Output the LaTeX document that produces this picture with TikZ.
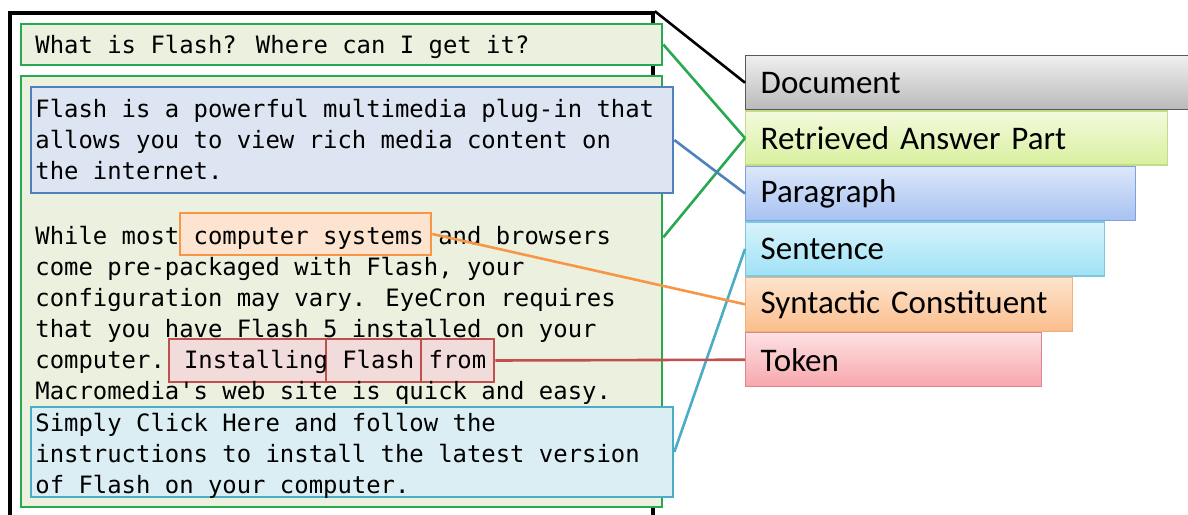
\documentclass[tikz,border=0pt]{standalone}
\usepackage{fontspec}
\newfontfamily\monofont{DejaVu Sans Mono}
\newfontfamily\labelfont{Carlito}
\usetikzlibrary{
    positioning,
    fit
}

\definecolor{ansgreen}{RGB}{40,168,80}
\definecolor{ansfill}{RGB}{236,241,223}
\definecolor{parblue}{RGB}{79,129,189}
\definecolor{parfill}{RGB}{220,229,241}
\definecolor{sentcyan}{RGB}{75,172,198}
\definecolor{sentfill}{RGB}{219,238,243}
\definecolor{constorange}{RGB}{247,150,70}
\definecolor{constfill}{RGB}{252,228,208}
\definecolor{tokred}{RGB}{192,80,77}
\definecolor{tokfill}{RGB}{242,220,219}

\tikzset{
    mono/.style={anchor=base west, inner sep=0pt, font=\fontsize{11.95}{14}\monofont},
    span/.style={inner sep=0pt, line width=1.3pt},
    tier/.style={anchor=north west, draw, line width=0.7pt, minimum height=27pt,
        inner xsep=7.5pt, inner ysep=0pt, align=left, font=\fontsize{16.5}{18}\labelfont},
    link/.style={line width=1.3pt}
}

\begin{document}
\begin{tikzpicture}[x=0.5pt, y=-0.5pt]
\useasboundingbox (0,0) rectangle (1188,514);

% the document and its parts
\node[draw, line width=1.8pt, inner sep=0pt, fit={(10,13) (653,540)}] (docframe) {};
\node[span, draw=ansgreen, fill=ansfill, fit={(21,24) (662,65)}] (quest) {};
\node[span, draw=ansgreen, fill=ansfill, fit={(21,76) (662,507)}] (ans) {};
\node[span, draw=parblue, fill=parfill, fit={(31,87) (673,193)}] (para) {};
\node[span, draw=sentcyan, fill=sentfill, fit={(31,407) (673,497)}] (sent) {};
\node[span, draw=constorange, fill=constfill, fit={(180,213) (431,255)}] (const) {};
\node[span, draw=tokred, fill=tokfill, fit={(169,339) (326,382)}] (tok1) {};
\node[span, draw=tokred, fill=tokfill, fit={(326,339) (421,382)}] (tok2) {};
\node[span, draw=tokred, fill=tokfill, fit={(421,339) (494,382)}] (tok3) {};

% text
\node[mono] (q) at (35,53) {What is Flash? Where can I get it?};
\node[mono] (p1) at (35,117) {Flash is a powerful multimedia plug-in that};
\node[mono] (p2) at (35,148) {allows you to view rich media content on};
\node[mono] (p3) at (35,179) {the internet.};
\foreach \ln [count=\i] in {
    {While most computer systems and browsers},
    {come pre-packaged with Flash, your},
    {configuration may vary. EyeCron requires},
    {that you have Flash 5 installed on your},
    {computer. Installing Flash from},
    {Macromedia's web site is quick and easy.}}
    \node[mono] (w\i) at (35,{244+31.1*(\i-1)}) {\ln};
\foreach \ln [count=\i] in {
    {Simply Click Here and follow the},
    {instructions to install the latest version},
    {of Flash on your computer.}}
    \node[mono] (s\i) at (35,{431+31.4*(\i-1)}) {\ln};

% levels
\node[tier, text width=210pt, top color=gray!12, bottom color=gray!55, draw=gray!70!black] (document) at (745,55) {Document};
\node[tier, text width=196pt, top color={rgb,255:red,243;green,250;blue,222}, bottom color={rgb,255:red,216;green,240;blue,158}, draw={rgb,255:red,194;green,220;blue,140}] (retrieved) at (document.south west) {Retrieved Answer Part};
\node[tier, text width=180pt, top color={rgb,255:red,221;green,231;blue,250}, bottom color={rgb,255:red,166;green,194;blue,242}, draw={rgb,255:red,126;green,160;blue,220}] (paragraph) at (retrieved.south west) {Paragraph};
\node[tier, text width=164.5pt, top color={rgb,255:red,215;green,243;blue,251}, bottom color={rgb,255:red,160;green,226;blue,246}, draw={rgb,255:red,124;green,200;blue,222}] (sentence) at (paragraph.south west) {Sentence};
\node[tier, text width=148.5pt, top color={rgb,255:red,253;green,228;blue,206}, bottom color={rgb,255:red,251;green,190;blue,140}, draw={rgb,255:red,242;green,175;blue,122}] (syntactic) at (sentence.south west) {Syntactic Constituent};
\node[tier, text width=133pt, top color={rgb,255:red,253;green,225;blue,227}, bottom color={rgb,255:red,247;green,167;blue,172}, draw={rgb,255:red,217;green,134;blue,140}] (token) at (syntactic.south west) {Token};

% links
\draw[link] (docframe.north east) -- (document.west);
\draw[link, ansgreen] (quest.east) -- (retrieved.west);
\draw[link, ansgreen] (ans.east |- w1) -- (retrieved.west);
\draw[link, parblue] (para.east) -- (paragraph.west);
\draw[link, sentcyan] (sent.east) -- (sentence.west);
\draw[link, constorange] (const.east) -- (syntactic.west);
\draw[link, tokred] (tok3.east) -- (token.west);
\end{tikzpicture}
\end{document}
